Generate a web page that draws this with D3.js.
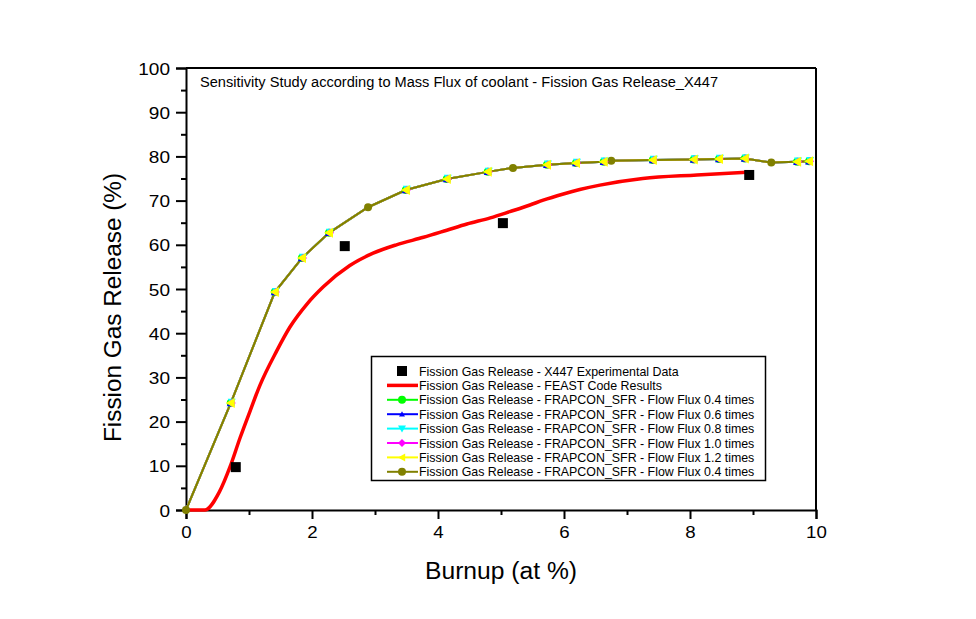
<!DOCTYPE html>
<html><head><meta charset="utf-8">
<script src="https://cdn.jsdelivr.net/npm/d3@7"></script>
<style>body{margin:0;background:#fff}svg{font-family:"Liberation Sans",Arial,sans-serif}</style>
</head><body><svg id="c" width="976" height="619"></svg>
<script>
const xTicks = [0,2,4,6,8,10];
const yTicks = [0,10,20,30,40,50,60,70,80,90,100];
const expX = [0.79, 2.52, 5.03, 8.94];
const expY = [9.7, 59.7, 64.9, 75.8];
const feastX = [0, 0.30, 0.53, 0.70, 0.86, 1.02, 1.17, 1.44, 1.65, 1.92, 2.18, 2.60, 2.97, 3.34, 3.77, 4.14, 4.46, 4.83, 5.14, 5.46, 5.67, 5.99, 6.25, 6.57, 7.25, 8.11, 8.98];
const feastY = [0, 0, 4.1, 9.8, 16.4, 22.5, 28.1, 36.0, 41.4, 46.6, 50.5, 55.3, 58.1, 60.0, 61.7, 63.3, 64.7, 66.1, 67.5, 69.0, 70.1, 71.5, 72.5, 73.5, 75.0, 75.8, 76.5];
const frapX = [0, 0.71, 1.41, 1.84, 2.27, 3.49, 4.14, 4.79, 5.73, 6.19, 6.63, 7.41, 8.06, 8.46, 8.87, 9.70, 9.89];
const frapY = [0, 24.2, 49.3, 57.0, 62.7, 72.4, 74.9, 76.5, 78.1, 78.5, 78.8, 79.2, 79.3, 79.4, 79.5, 78.8, 78.9];
const oliveX = [0, 2.89, 5.19, 6.75, 9.29];
const oliveY = [0, 68.5, 77.4, 79.0, 78.6];
const legendLabels = [
 "Fission Gas Release - X447 Experimental Data",
 "Fission Gas Release - FEAST Code Results",
 "Fission Gas Release - FRAPCON_SFR - Flow Flux 0.4 times",
 "Fission Gas Release - FRAPCON_SFR - Flow Flux 0.6 times",
 "Fission Gas Release - FRAPCON_SFR - Flow Flux 0.8 times",
 "Fission Gas Release - FRAPCON_SFR - Flow Flux 1.0 times",
 "Fission Gas Release - FRAPCON_SFR - Flow Flux 1.2 times",
 "Fission Gas Release - FRAPCON_SFR - Flow Flux 0.4 times"];
const frapColors = ["#00ff00","#0000ff","#00ffff","#ff00ff","#ffff00"];
const frapSymbols = ["circle","up","down","diamond","left"];
const oliveColor = "#808000";

const svg = d3.select("#c");
const L=186, R=816, T=68, B=510;
const x = d3.scaleLinear().domain([0,10]).range([L,R]);
const y = d3.scaleLinear().domain([0,100]).range([B,T]);

svg.append("line").attr("x1",L).attr("x2",R).attr("y1",T).attr("y2",T).attr("stroke","#000").attr("stroke-width",2);
svg.append("line").attr("x1",R).attr("x2",R).attr("y1",T).attr("y2",B).attr("stroke","#000").attr("stroke-width",2);

svg.append("g").attr("class","xa").attr("transform",`translate(0,${B})`)
  .call(d3.axisBottom(x).tickValues(xTicks).tickSize(9).tickFormat(d3.format("d")));
svg.append("g").attr("transform",`translate(0,${B})`)
  .call(d3.axisBottom(x).tickValues(d3.range(1,10,2)).tickSize(5).tickFormat(""))
  .call(g=>g.select(".domain").remove());
svg.append("g").attr("class","ya").attr("transform",`translate(${L},0)`)
  .call(d3.axisLeft(y).tickValues(yTicks).tickSize(10).tickFormat(d3.format("d")));
svg.append("g").attr("transform",`translate(${L},0)`)
  .call(d3.axisLeft(y).tickValues(d3.range(5,100,10)).tickSize(5).tickFormat(""))
  .call(g=>g.select(".domain").remove());
svg.selectAll(".domain").attr("stroke","#000").attr("stroke-width",2);
svg.selectAll(".tick line").attr("stroke","#000").attr("stroke-width",2);
svg.selectAll(".tick text").attr("font-size",17).attr("fill","#000").attr("font-family","Liberation Sans, Arial, sans-serif");
svg.selectAll(".xa .tick text").attr("y",null).attr("dy",null).attr("transform","translate(0,28) scale(1.1,1)");
svg.selectAll(".ya .tick text").attr("x",null).attr("dy","0.36em").attr("transform","translate(-16,0) scale(1.12,1)");

svg.append("text").attr("x",501).attr("y",579).attr("text-anchor","middle").attr("font-size",23)
  .attr("textLength",152).attr("lengthAdjust","spacingAndGlyphs").text("Burnup (at %)");
svg.append("text").attr("transform",`translate(121,307.5) rotate(-90)`).attr("text-anchor","middle").attr("font-size",23)
  .attr("textLength",269).attr("lengthAdjust","spacingAndGlyphs").text("Fission Gas Release (%)");
svg.append("text").attr("x",200).attr("y",87).attr("font-size",14)
  .attr("textLength",518).attr("lengthAdjust","spacingAndGlyphs")
  .text("Sensitivity Study according to Mass Flux of coolant - Fission Gas Release_X447");

const line = d3.line().x(d=>x(d[0])).y(d=>y(d[1]));
const frapPts = frapX.map((v,i)=>[v,frapY[i]]);
const olivePts = oliveX.map((v,i)=>[v,oliveY[i]]);
const allOlive = frapPts.concat(olivePts.slice(1)).sort((a,b)=>a[0]-b[0]);

function symPath(s, r){
  if(s==="circle") return d3.symbol(d3.symbolCircle, Math.PI*r*r)();
  if(s==="diamond") return `M0,${-r}L${r},0L0,${r}L${-r},0Z`;
  if(s==="up") return `M0,${-r}L${r},${r*0.8}L${-r},${r*0.8}Z`;
  if(s==="down") return `M0,${r}L${r},${-r*0.8}L${-r},${-r*0.8}Z`;
  if(s==="left") return `M${-r},0L${r*0.8},${-r}L${r*0.8},${r}Z`;
}

svg.append("path").datum(feastX.map((v,i)=>[v,feastY[i]]))
  .attr("d",d3.line().x(d=>x(d[0])).y(d=>y(d[1])).curve(d3.curveMonotoneX))
  .attr("fill","none").attr("stroke","#ff0000").attr("stroke-width",3.5).attr("stroke-linejoin","round");

frapColors.forEach(c=>{
  svg.append("path").datum(allOlive).attr("d",line).attr("fill","none").attr("stroke",c).attr("stroke-width",2);
});
svg.append("path").datum(allOlive).attr("d",line).attr("fill","none").attr("stroke",oliveColor).attr("stroke-width",2);
svg.selectAll(".oc").data(olivePts).join("path").attr("class","oc")
  .attr("transform",d=>`translate(${x(d[0])},${y(d[1])})`).attr("d",symPath("circle",4)).attr("fill",oliveColor);
const offs=[[0,0],[0,0],[1,-1],[1,0],[0,0]];
frapColors.forEach((c,k)=>{
  svg.selectAll(".fm"+k).data(frapPts.slice(1)).join("path")
    .attr("transform",d=>`translate(${x(d[0])+offs[k][0]},${y(d[1])+offs[k][1]})`)
    .attr("d",symPath(frapSymbols[k], k===4?5:4)).attr("fill",c);
});

svg.selectAll(".ex").data(expX.map((v,i)=>[v,expY[i]])).join("rect")
  .attr("x",d=>x(d[0])-5).attr("y",d=>y(d[1])-5).attr("width",10).attr("height",10).attr("fill","#000");

const lg = svg.append("g");
lg.append("rect").attr("x",371.5).attr("y",356.5).attr("width",394).attr("height",124).attr("fill","#fff").attr("stroke","#000").attr("stroke-width",1.5);
const rowY = i=>371+i*14.4;
legendLabels.forEach((t,i)=>{
  lg.append("text").attr("x",419).attr("y",rowY(i)+4.5).attr("font-size",12.4).text(t);
});
lg.append("rect").attr("x",397).attr("y",rowY(0)-5).attr("width",10).attr("height",10).attr("fill","#000");
lg.append("line").attr("x1",387).attr("x2",418).attr("y1",rowY(1)).attr("y2",rowY(1)).attr("stroke","#ff0000").attr("stroke-width",3.5);
frapColors.concat([oliveColor]).forEach((c,k)=>{
  const yy=rowY(k+2);
  lg.append("line").attr("x1",387).attr("x2",418).attr("y1",yy).attr("y2",yy).attr("stroke",c).attr("stroke-width",2);
  const s = k<5?frapSymbols[k]:"circle";
  lg.append("path").attr("transform",`translate(402,${yy})`).attr("d",symPath(s, s==="up"?3:4)).attr("fill",c);
});
</script></body></html>
